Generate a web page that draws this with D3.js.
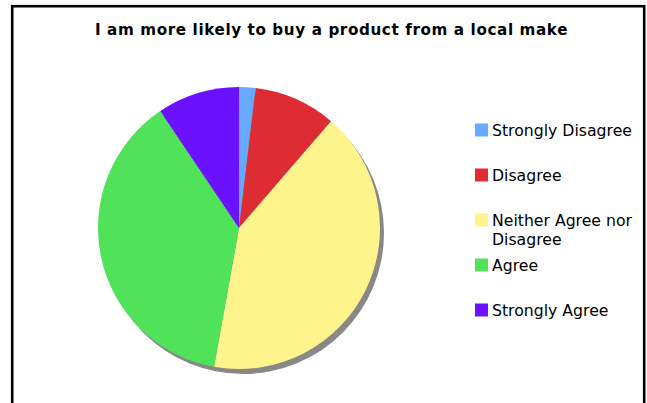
<!DOCTYPE html>
<html>
<head>
<meta charset="utf-8">
<script src="https://cdn.jsdelivr.net/npm/d3@7"></script>
<style>
  html, body { margin: 0; padding: 0; background: #fff; }
  svg { display: block; }
</style>
</head>
<body>
<svg id="chart" width="647" height="403"></svg>
<script>
// Survey responses
const title = "I am more likely to buy a product from a local make";
const categories = ["Strongly Disagree", "Disagree", "Neither Agree nor Disagree", "Agree", "Strongly Agree"];
const legendLines = [["Strongly Disagree"], ["Disagree"], ["Neither Agree nor", "Disagree"], ["Agree"], ["Strongly Agree"]];
const counts = [1, 5, 22, 20, 5];
const colors = ["#66aaff", "#dd2d33", "#fff38c", "#50e35a", "#6a12ff"];

const svg = d3.select("#chart");
const W = 647, H = 403;

// Frame
svg.append("rect")
  .attr("x", 12.2).attr("y", 6.2)
  .attr("width", 632).attr("height", H + 20)
  .attr("fill", "#fff")
  .attr("stroke", "#000")
  .attr("stroke-width", 2.6);

// Title
svg.append("text")
  .attr("x", 331.5).attr("y", 35)
  .attr("text-anchor", "middle")
  .attr("font-family", "DejaVu Sans, Verdana, sans-serif")
  .attr("font-weight", "bold")
  .attr("font-size", 15.2)
  .attr("letter-spacing", 0.6)
  .attr("fill", "#000")
  .text(title);

// Pie
const cx = 239, cy = 228, r = 141;
const pie = d3.pie().sort(null).value(d => d).startAngle(0).endAngle(2 * Math.PI);
const arcs = pie(counts);
const arc = d3.arc().innerRadius(0).outerRadius(r);
const color = d3.scaleOrdinal().domain(categories).range(colors);

// Drop shadow
svg.append("circle")
  .attr("cx", cx + 4).attr("cy", cy + 5).attr("r", r)
  .attr("fill", "#888888");

const g = svg.append("g").attr("transform", `translate(${cx},${cy})`);
g.selectAll("path")
  .data(arcs)
  .join("path")
  .attr("d", arc)
  .attr("fill", (d, i) => color(categories[i]));

// Legend
const legend = svg.append("g");
const rowY = d3.scalePoint().domain(categories).range([130, 310]);
categories.forEach((c, i) => {
  const y = rowY(c);
  legend.append("rect")
    .attr("x", 475).attr("y", y - 6.5)
    .attr("width", 13).attr("height", 13)
    .attr("fill", color(c));
  const t = legend.append("text")
    .attr("x", 492).attr("y", y + 5.5)
    .attr("font-family", "DejaVu Sans, Verdana, sans-serif")
    .attr("font-size", 15.7)
    .attr("fill", "#000");
  legendLines[i].forEach((line, k) => {
    t.append("tspan").attr("x", 492).attr("dy", k === 0 ? 0 : 19.5).text(line);
  });
});
</script>
</body>
</html>
